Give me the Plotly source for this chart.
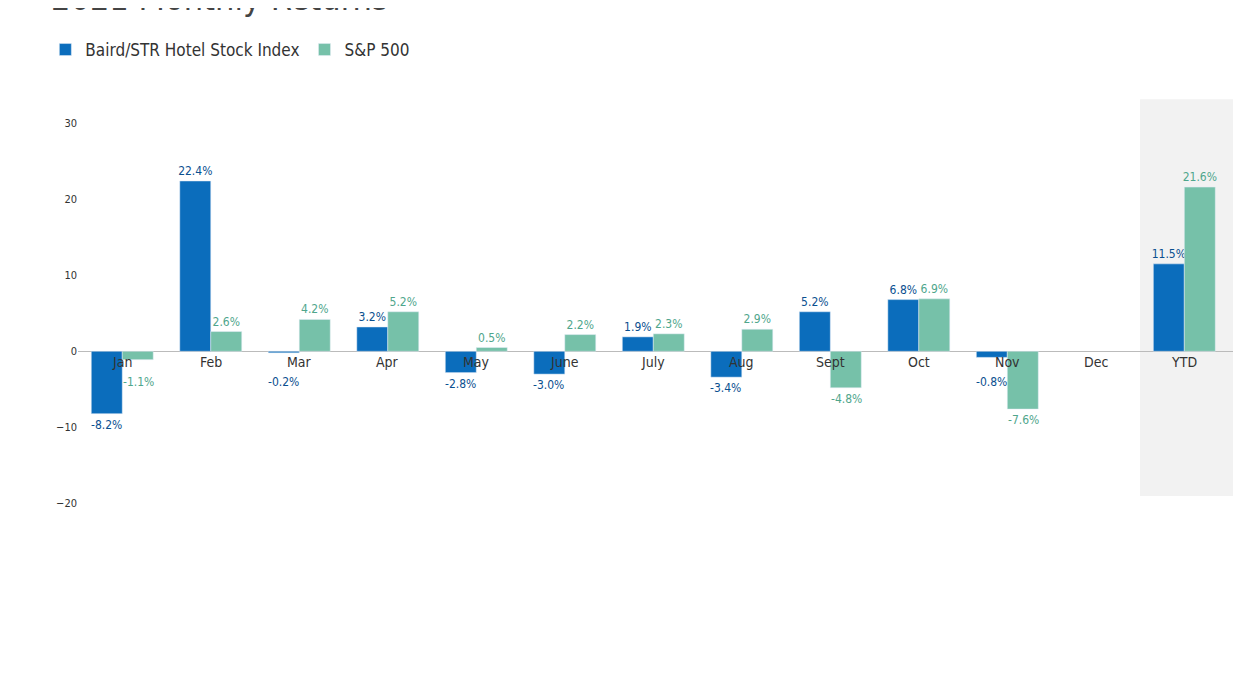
import plotly.graph_objects as go

cats = ["Jan","Feb","Mar","Apr","May","June","July","Aug","Sept","Oct","Nov","Dec","YTD"]
baird = [-8.2,22.4,-0.2,3.2,-2.8,-3.0,1.9,-3.4,5.2,6.8,-0.8,None,11.5]
sp500 = [-1.1,2.6,4.2,5.2,0.5,2.2,2.3,2.9,-4.8,6.9,-7.6,None,21.6]
yticks = [30,20,10,0,-10,-20]

font = "DejaVu Sans Condensed"
blue, green = "#0b6dbc", "#76c1a9"
blue_t, green_t = "#0a4f8f", "#4fa68c"

def lab(v):
    return [("" if (x is None or x < 0) else f"{x:.1f}%") for x in v]

fig = go.Figure()
fig.add_bar(x=cats, y=baird, name="Baird/STR Hotel Stock Index", marker_color=blue,
            text=lab(baird), textposition="outside", cliponaxis=False,
            textfont=dict(color=blue_t, size=12, family=font))
fig.add_bar(x=cats, y=sp500, name="S&P 500", marker_color=green,
            text=lab(sp500), textposition="outside", cliponaxis=False,
            textfont=dict(color=green_t, size=12, family=font))

# negative value labels placed below the category label band
for series, shift, col in [(baird, -16, blue_t), (sp500, 16, green_t)]:
    for c, v in zip(cats, series):
        if v is not None and v < 0:
            fig.add_annotation(x=c, y=min(v, -2.6), yanchor="top", yshift=-2, xshift=shift,
                               text=f"{v:.1f}%", showarrow=False,
                               font=dict(size=12, family=font, color=col))

for c in cats:
    fig.add_annotation(x=c, y=0, yshift=-11, text=c, showarrow=False,
                       font=dict(size=14, family=font, color="#333"))

fig.add_shape(type="rect", xref="x", yref="paper", x0=11.5, x1=12.55, y0=0.12, y1=1.02,
              fillcolor="#f2f2f2", line_width=0, layer="below")

fig.add_annotation(xref="paper", yref="paper", x=-0.025, y=1.25, xanchor="left", yanchor="middle",
                   text="2021 Monthly Returns", showarrow=False,
                   font=dict(size=34, color="#444", family=font))

fig.update_layout(
    width=1245, height=700, barmode="group", bargap=0.3, bargroupgap=0,
    plot_bgcolor="white", paper_bgcolor="white",
    margin=dict(l=70, r=20, t=100, b=159, autoexpand=False),
    font=dict(family=font),
    uniformtext=dict(minsize=12, mode="show"),
    legend=dict(orientation="h", x=0.03, xref="container", y=0.94, yref="container",
                xanchor="left", yanchor="middle",
                font=dict(size=17, color="#333")),
    showlegend=True,
)
fig.update_xaxes(showticklabels=False, showgrid=False, zeroline=False)
fig.update_yaxes(range=[-26, 32], tickvals=yticks, showgrid=False, zeroline=True,
                 zerolinecolor="#bbb", zerolinewidth=1,
                 tickfont=dict(size=11, color="#333"))
fig.write_html("out.html")
